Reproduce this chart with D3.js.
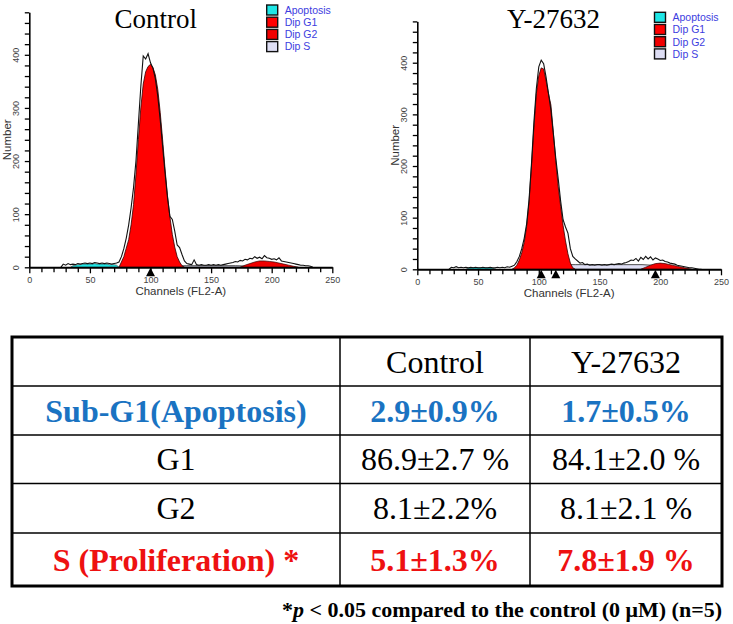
<!DOCTYPE html>
<html><head><meta charset="utf-8">
<script src="https://cdn.jsdelivr.net/npm/d3@7"></script>
<style>body{margin:0;background:#fff} svg{display:block}</style>
</head><body><svg id="c" width="733" height="624"></svg>
<script>
// ---------- DATA ----------
const panelTitles = ["Control", "Y-27632"];
const legendLabels = ["Apoptosis", "Dip G1", "Dip G2", "Dip S"];
const xTickValues = [0,10,20,30,40,50,60,70,80,90,100,110,120,130,140,150,160,170,180,190,200,210,220,230,240,250];
const xTickLabels = [0,50,100,150,200,250];
const yTickValues = [0,20,40,60,80,100,120,140,160,180,200,220,240,260,280,300,320,340,360,380,400,420,440,460,480];
const yTickLabels = [0,100,200,300,400];

const rawChannels = [26,28,30,32,34,36,38,40,42,44,46,48,50,52,54,56,58,60,62,64,66,68,70,72,74,76,78,80,82,84,86,88,90,92,94,96,98,100,102,104,106,108,110,112,114,116,118,120,122,124,126,128,130,132,134,136,138,140,142,144,146,148,150,152,154,156,158,160,162,164,166,168,170,172,174,176,178,180,182,184,186,188,190,192,194,196,198,200,202,204,206,208,210,212,214,216,218,220,222,224,226,228,230,232,234];
const controlRaw = [0,6,4,7,5,6,5,7,6,7, 8,7,8,7,9,8,7,8,7,8, 7,6,7,8,10,20,35,55,80,112, 150,200,270,340,398,392,402,385,375,355, 322,278,228,178,132,96,90,68,42,37, 24,12,7,6,5,14,5,4,5,4, 4,5,4,5,4,5,4,5,6,7, 8,9,11,10,13,12,15,14,17,16, 20,17,19,16,22,18,17,15,16,14, 18,12,11,10,9,8,7,6,5,4, 4,3,3,2,0];
const y27632Raw = [0,4,3,5,3,4,3,4,3,4, 3,4,3,3,4,3,3,4,3,3, 4,3,4,3,5,4,6,8,15,25, 40,60,88,135,205,285,350,392,405,398, 372,340,308,262,215,175,132,96,82,70, 40,25,20,16,12,13,9,10,8,9, 8,9,9,8,9,8,9,10,9,10, 11,10,12,13,15,18,17,21,16,23, 19,25,20,24,18,22,20,17,18,15, 14,12,11,10,8,7,6,5,4,3, 3,2,1,0,0];

const controlApoptosis = [[34,0],[36,3],[38,4],[40,5],[42,5],[44,6],[46,6],[48,6],[50,6],[52,6],[54,7],[56,6],[58,6],[60,6],[62,6],[64,6],[66,5],[68,5],[70,5],[72,4],[74,0]];
const controlG1 = [[74,0],[76,10],[78,20],[80,36],[82,52],[84,80],[86,118],[88,175],[90,240],[92,300],[94,345],[96,368],[98,378],[100,382],[102,376],[104,362],[106,335],[108,292],[110,240],[112,185],[114,135],[116,95],[118,62],[120,38],[122,20],[124,10],[126,3],[128,0]];
const controlG2 = [[174,0],[178,4],[182,7],[186,10],[190,12],[194,12],[198,11],[202,10],[206,8],[210,6],[214,4],[218,2],[222,0]];
const controlS = [[100,0],[110,2],[130,3],[150,3],[170,3],[185,2],[195,0]];
const controlMarkers = [100];

const y27632Apoptosis = [[40,0],[42,2],[46,3],[50,3],[54,3],[58,3],[62,2],[65,0]];
const y27632G1 = [[78,0],[80,3],[82,8],[84,18],[86,32],[88,52],[90,83],[92,130],[94,200],[96,275],[98,340],[100,375],[102,390],[104,388],[106,365],[108,340],[110,318],[112,265],[114,210],[116,160],[118,122],[120,85],[122,55],[124,30],[126,12],[128,3],[130,0]];
const y27632G2 = [[184,0],[188,4],[192,8],[196,11],[200,12],[204,11],[208,9],[212,7],[216,5],[220,3],[224,1],[226,0]];
const y27632S = [[100,0],[104,3],[108,6],[112,8],[116,9],[130,9],[150,9],[170,9],[185,9],[192,8],[198,7],[204,5],[208,3],[212,2],[216,0]];
const y27632Markers = [102,114,196];

const tableColumns = ["Control", "Y-27632"];
const tableRows = ["Sub-G1(Apoptosis)", "G1", "G2", "S (Proliferation) *"];
const controlValues = ["2.9±0.9%", "86.9±2.7 %", "8.1±2.2%", "5.1±1.3%"];
const y27632Values = ["1.7±0.5%", "84.1±2.0 %", "8.1±2.1 %", "7.8±1.9 %"];

// ---------- DRAW ----------
const svg = d3.select("#c");
svg.append("rect").attr("width",733).attr("height",624).attr("fill","#fff");
const SANS = "'Liberation Sans', Arial, sans-serif";
const SERIF = "'Liberation Serif', 'Times New Roman', serif";
const COLORS = {apo:"#1ee6e6", g1:"#ff0000", g2:"#f00000", s:"#dedef4"};

function panel(p) {
  const x = d3.scaleLinear().domain([0,250]).range([p.x0, p.x1]);
  const y = d3.scaleLinear().domain([0,480]).range([p.y0, p.y1]);
  const g = svg.append("g");
  const area = d3.area().x(d=>x(d[0])).y0(y(0)).y1(d=>y(d[1]));
  g.append("path").datum(p.s).attr("d",area).attr("fill",COLORS.s).attr("stroke","#222").attr("stroke-width",0.8);
  g.append("path").datum(p.apo).attr("d",area).attr("fill",COLORS.apo).attr("stroke","#333").attr("stroke-width",0.6);
  g.append("path").datum(p.g2).attr("d",area).attr("fill",COLORS.g2).attr("stroke","#300").attr("stroke-width",0.7);
  g.append("path").datum(p.g1).attr("d",area).attr("fill",COLORS.g1).attr("stroke","#300").attr("stroke-width",0.8);
  const line = d3.line().x((d,i)=>x(rawChannels[i])).y(d=>y(d));
  g.append("path").datum(p.raw).attr("d",line).attr("fill","none").attr("stroke","#111").attr("stroke-width",1.1);

  // x axis
  const xa = g.append("g").attr("transform",`translate(0,${y(0)})`)
    .call(d3.axisBottom(x).tickValues(xTickValues).tickSize(5).tickSizeOuter(0).tickPadding(4.5)
      .tickFormat(d=>xTickLabels.includes(d)?d:""));
  xa.select(".domain").attr("stroke","#000").attr("stroke-width",2);
  xa.selectAll(".tick line").attr("stroke","#000").attr("stroke-width",1.3)
    .attr("y2", d=>xTickLabels.includes(d)?6:5);
  xa.selectAll("text").attr("font-family",SANS).attr("font-size",9).attr("fill","#444");

  // y axis
  const ya = g.append("g").attr("transform",`translate(${x(0)},0)`)
    .call(d3.axisLeft(y).tickValues(yTickValues).tickSize(4.5).tickSizeOuter(0)
      .tickFormat(d=>yTickLabels.includes(d)?d:""));
  ya.select(".domain").attr("stroke","#000").attr("stroke-width",1.6);
  ya.selectAll(".tick line").attr("stroke","#000").attr("stroke-width",1.3);
  ya.selectAll("text").attr("transform","rotate(-90)").attr("x",0).attr("y",-10).attr("dy",0)
    .attr("text-anchor","middle").attr("font-family",SANS).attr("font-size",9).attr("fill","#444");

  // markers
  g.selectAll(".mk").data(p.markers).join("path")
    .attr("d", d=>`M${x(d)},${y(0)+0.5} L${x(d)+4.5},${y(0)+9} L${x(d)-4.5},${y(0)+9} Z`).attr("fill","#000");

  // axis titles
  g.append("text").attr("x",(p.x0+p.x1)/2).attr("y",y(0)+28).attr("text-anchor","middle")
    .attr("font-family",SANS).attr("font-size",11.5).attr("fill","#333").text("Channels (FL2-A)");
  g.append("text").attr("transform",`translate(${p.numX},${(y(0)+y(480))/2}) rotate(-90)`).attr("text-anchor","middle")
    .attr("font-family",SANS).attr("font-size",11.5).attr("fill","#333").text("Number");

  // title
  g.append("text").attr("x",p.titleX).attr("y",28).attr("text-anchor","middle")
    .attr("font-family",SERIF).attr("font-size",27).attr("fill","#000").text(p.title);

  // legend
  const cols = [COLORS.apo, COLORS.g1, COLORS.g2, COLORS.s];
  legendLabels.forEach((lab,i)=>{
    const cy = p.legY + i*12.2;
    g.append("rect").attr("x",p.legX).attr("y",cy-5).attr("width",11).attr("height",10)
      .attr("fill",cols[i]).attr("stroke","#111").attr("stroke-width",1.4);
    g.append("text").attr("x",p.legX+18).attr("y",cy+3.8).attr("font-family",SANS).attr("font-size",10.5)
      .attr("fill","#3d3de0").text(lab);
  });
}

panel({x0:29.3, x1:332.3, y0:267.3, y1:12.3, raw:controlRaw, apo:controlApoptosis, g1:controlG1, g2:controlG2, s:controlS,
  markers:controlMarkers, numX:10.5, titleX:155.7, title:panelTitles[0], legX:266.7, legY:10});
panel({x0:417.3, x1:721, y0:269.3, y1:21.4, raw:y27632Raw, apo:y27632Apoptosis, g1:y27632G1, g2:y27632G2, s:y27632S,
  markers:y27632Markers, numX:399, titleX:553.4, title:panelTitles[1], legX:654.5, legY:17.3});

// ---------- TABLE ----------
const tX = [12, 340, 530, 722];
const tY = [337, 386, 435, 483.5, 533, 586];
const tg = svg.append("g");
[tY[1],tY[2],tY[3],tY[4]].forEach(yy=>tg.append("line").attr("x1",tX[0]).attr("x2",tX[3]).attr("y1",yy).attr("y2",yy)
  .attr("stroke","#000").attr("stroke-width",1.5));
[tX[1],tX[2]].forEach(xx=>tg.append("line").attr("x1",xx).attr("x2",xx).attr("y1",tY[0]).attr("y2",tY[5])
  .attr("stroke","#000").attr("stroke-width",1.5));
tg.append("rect").attr("x",tX[0]).attr("y",tY[0]).attr("width",tX[3]-tX[0]).attr("height",tY[5]-tY[0])
  .attr("fill","none").attr("stroke","#000").attr("stroke-width",3);

const rowStyle = [{fill:"#1a73c2", w:"bold"}, {fill:"#000", w:"normal"}, {fill:"#000", w:"normal"}, {fill:"#ee1111", w:"bold"}];
function cell(col, row, txt, style) {
  const cx = (tX[col]+tX[col+1])/2, cy = (tY[row]+tY[row+1])/2;
  tg.append("text").attr("x",cx).attr("y",cy+11).attr("text-anchor","middle").attr("font-family",SERIF)
    .attr("font-size",32).attr("font-weight",style.w).attr("fill",style.fill).text(txt);
}
tableColumns.forEach((c,i)=>cell(i+1,0,c,{fill:"#000",w:"normal"}));
tableRows.forEach((r,i)=>{
  cell(0,i+1,r,rowStyle[i]);
  cell(1,i+1,controlValues[i],rowStyle[i]);
  cell(2,i+1,y27632Values[i],rowStyle[i]);
});

const fn = svg.append("text").attr("x",722).attr("y",617).attr("text-anchor","end").attr("font-family",SERIF)
  .attr("font-size",22).attr("font-weight","bold").attr("fill","#000");
fn.append("tspan").text("*");
fn.append("tspan").attr("font-style","italic").text("p");
fn.append("tspan").text(" < 0.05 compared to the control (0 μM) (n=5)");
</script></body></html>
